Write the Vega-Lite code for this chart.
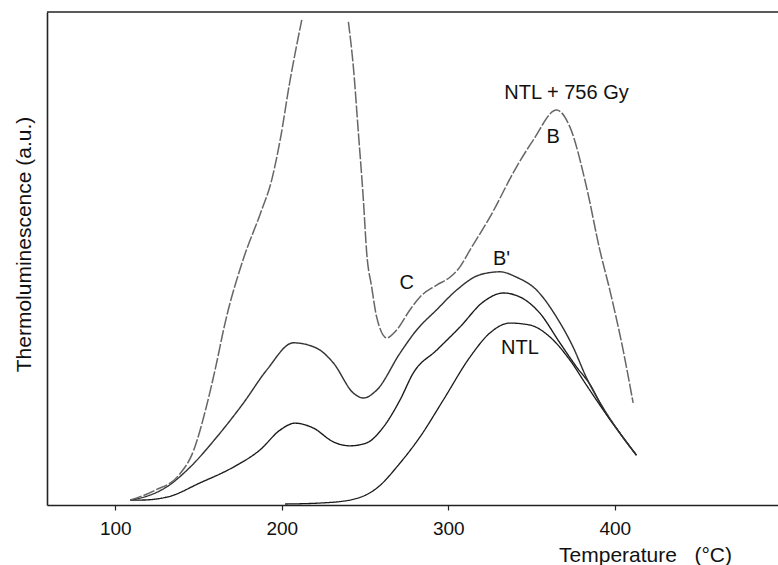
{
  "$schema": "https://vega.github.io/schema/vega-lite/v6.json",
  "width": 731,
  "height": 493,
  "autosize": {"type": "none"},
  "padding": {"left": 47, "top": 12, "right": 0, "bottom": 60},
  "background": "white",
  "config": {
    "view": {"stroke": null},
    "font": "Liberation Sans",
    "axis": {"grid": false}
  },
  "datasets": {
    "curves": [
      {"series": "NTL", "seg": "a", "T": 202, "v": 0.2},
      {"series": "NTL", "seg": "a", "T": 223, "v": 0.4},
      {"series": "NTL", "seg": "a", "T": 241, "v": 1.0},
      {"series": "NTL", "seg": "a", "T": 257, "v": 3.4},
      {"series": "NTL", "seg": "a", "T": 271, "v": 8.5},
      {"series": "NTL", "seg": "a", "T": 283, "v": 13.8},
      {"series": "NTL", "seg": "a", "T": 297, "v": 21.3},
      {"series": "NTL", "seg": "a", "T": 313, "v": 30.0},
      {"series": "NTL", "seg": "a", "T": 325, "v": 34.9},
      {"series": "NTL", "seg": "a", "T": 337, "v": 36.9},
      {"series": "NTL", "seg": "a", "T": 349, "v": 36.5},
      {"series": "NTL", "seg": "a", "T": 361, "v": 34.1},
      {"series": "NTL", "seg": "a", "T": 373, "v": 29.4},
      {"series": "NTL", "seg": "a", "T": 383, "v": 24.3},
      {"series": "NTL", "seg": "a", "T": 393, "v": 19.3},
      {"series": "NTL", "seg": "a", "T": 403, "v": 14.6},
      {"series": "NTL", "seg": "a", "T": 413, "v": 10.1},

      {"series": "S2", "seg": "a", "T": 109, "v": 1.0},
      {"series": "S2", "seg": "a", "T": 115, "v": 1.0},
      {"series": "S2", "seg": "a", "T": 131, "v": 1.6},
      {"series": "S2", "seg": "a", "T": 151, "v": 4.5},
      {"series": "S2", "seg": "a", "T": 171, "v": 7.7},
      {"series": "S2", "seg": "a", "T": 187, "v": 11.2},
      {"series": "S2", "seg": "a", "T": 199, "v": 15.2},
      {"series": "S2", "seg": "a", "T": 208, "v": 16.6},
      {"series": "S2", "seg": "a", "T": 219, "v": 15.6},
      {"series": "S2", "seg": "a", "T": 231, "v": 12.8},
      {"series": "S2", "seg": "a", "T": 241, "v": 12.0},
      {"series": "S2", "seg": "a", "T": 251, "v": 12.6},
      {"series": "S2", "seg": "a", "T": 261, "v": 15.8},
      {"series": "S2", "seg": "a", "T": 271, "v": 21.3},
      {"series": "S2", "seg": "a", "T": 279, "v": 26.8},
      {"series": "S2", "seg": "a", "T": 293, "v": 31.4},
      {"series": "S2", "seg": "a", "T": 307, "v": 36.1},
      {"series": "S2", "seg": "a", "T": 321, "v": 41.2},
      {"series": "S2", "seg": "a", "T": 333, "v": 43.0},
      {"series": "S2", "seg": "a", "T": 343, "v": 42.2},
      {"series": "S2", "seg": "a", "T": 355, "v": 38.9},
      {"series": "S2", "seg": "a", "T": 367, "v": 32.9},
      {"series": "S2", "seg": "a", "T": 377, "v": 28.0},
      {"series": "S2", "seg": "a", "T": 385, "v": 24.5},
      {"series": "S2", "seg": "a", "T": 393, "v": 19.5},
      {"series": "S2", "seg": "a", "T": 403, "v": 14.6},
      {"series": "S2", "seg": "a", "T": 413, "v": 10.1},

      {"series": "S3", "seg": "a", "T": 109, "v": 1.0},
      {"series": "S3", "seg": "a", "T": 115, "v": 1.4},
      {"series": "S3", "seg": "a", "T": 131, "v": 3.7},
      {"series": "S3", "seg": "a", "T": 145, "v": 7.7},
      {"series": "S3", "seg": "a", "T": 161, "v": 13.8},
      {"series": "S3", "seg": "a", "T": 177, "v": 20.7},
      {"series": "S3", "seg": "a", "T": 191, "v": 27.4},
      {"series": "S3", "seg": "a", "T": 207, "v": 32.9},
      {"series": "S3", "seg": "a", "T": 221, "v": 31.8},
      {"series": "S3", "seg": "a", "T": 231, "v": 28.8},
      {"series": "S3", "seg": "a", "T": 243, "v": 22.7},
      {"series": "S3", "seg": "a", "T": 249, "v": 21.7},
      {"series": "S3", "seg": "a", "T": 257, "v": 23.3},
      {"series": "S3", "seg": "a", "T": 271, "v": 30.8},
      {"series": "S3", "seg": "a", "T": 281, "v": 35.5},
      {"series": "S3", "seg": "a", "T": 293, "v": 39.6},
      {"series": "S3", "seg": "a", "T": 305, "v": 43.6},
      {"series": "S3", "seg": "a", "T": 319, "v": 46.7},
      {"series": "S3", "seg": "a", "T": 331, "v": 47.3},
      {"series": "S3", "seg": "a", "T": 341, "v": 46.2},
      {"series": "S3", "seg": "a", "T": 353, "v": 43.6},
      {"series": "S3", "seg": "a", "T": 365, "v": 38.1},
      {"series": "S3", "seg": "a", "T": 375, "v": 32.0},
      {"series": "S3", "seg": "a", "T": 383, "v": 25.8},
      {"series": "S3", "seg": "a", "T": 393, "v": 19.7},
      {"series": "S3", "seg": "a", "T": 403, "v": 14.6},
      {"series": "S3", "seg": "a", "T": 413, "v": 10.1},

      {"series": "NTL + 756 Gy", "seg": "a", "T": 109, "v": 1.0},
      {"series": "NTL + 756 Gy", "seg": "a", "T": 124, "v": 3.0},
      {"series": "NTL + 756 Gy", "seg": "a", "T": 138, "v": 6.0},
      {"series": "NTL + 756 Gy", "seg": "a", "T": 147, "v": 11.0},
      {"series": "NTL + 756 Gy", "seg": "a", "T": 154, "v": 19.0},
      {"series": "NTL + 756 Gy", "seg": "a", "T": 160, "v": 27.5},
      {"series": "NTL + 756 Gy", "seg": "a", "T": 166, "v": 37.0},
      {"series": "NTL + 756 Gy", "seg": "a", "T": 177, "v": 50.0},
      {"series": "NTL + 756 Gy", "seg": "a", "T": 187, "v": 59.0},
      {"series": "NTL + 756 Gy", "seg": "a", "T": 194, "v": 66.0},
      {"series": "NTL + 756 Gy", "seg": "a", "T": 199, "v": 74.0},
      {"series": "NTL + 756 Gy", "seg": "a", "T": 205, "v": 86.2},
      {"series": "NTL + 756 Gy", "seg": "a", "T": 212, "v": 98.4},

      {"series": "NTL + 756 Gy", "seg": "b", "T": 240, "v": 98.0},
      {"series": "NTL + 756 Gy", "seg": "b", "T": 243, "v": 88.8},
      {"series": "NTL + 756 Gy", "seg": "b", "T": 246, "v": 75.5},
      {"series": "NTL + 756 Gy", "seg": "b", "T": 249, "v": 61.9},
      {"series": "NTL + 756 Gy", "seg": "b", "T": 251, "v": 51.1},
      {"series": "NTL + 756 Gy", "seg": "b", "T": 254, "v": 44.2},
      {"series": "NTL + 756 Gy", "seg": "b", "T": 257, "v": 38.1},
      {"series": "NTL + 756 Gy", "seg": "b", "T": 263, "v": 33.9},
      {"series": "NTL + 756 Gy", "seg": "b", "T": 269, "v": 35.5},
      {"series": "NTL + 756 Gy", "seg": "b", "T": 277, "v": 39.6},
      {"series": "NTL + 756 Gy", "seg": "b", "T": 283, "v": 42.2},
      {"series": "NTL + 756 Gy", "seg": "b", "T": 293, "v": 44.6},
      {"series": "NTL + 756 Gy", "seg": "b", "T": 301, "v": 46.2},
      {"series": "NTL + 756 Gy", "seg": "b", "T": 307, "v": 48.3},
      {"series": "NTL + 756 Gy", "seg": "b", "T": 313, "v": 51.7},
      {"series": "NTL + 756 Gy", "seg": "b", "T": 325, "v": 58.4},
      {"series": "NTL + 756 Gy", "seg": "b", "T": 341, "v": 68.6},
      {"series": "NTL + 756 Gy", "seg": "b", "T": 351, "v": 74.0},
      {"series": "NTL + 756 Gy", "seg": "b", "T": 365, "v": 80.1},
      {"series": "NTL + 756 Gy", "seg": "b", "T": 373, "v": 76.7},
      {"series": "NTL + 756 Gy", "seg": "b", "T": 383, "v": 64.5},
      {"series": "NTL + 756 Gy", "seg": "b", "T": 391, "v": 51.7},
      {"series": "NTL + 756 Gy", "seg": "b", "T": 397, "v": 43.6},
      {"series": "NTL + 756 Gy", "seg": "b", "T": 405, "v": 31.4},
      {"series": "NTL + 756 Gy", "seg": "b", "T": 411, "v": 20.7}
    ],
    "labels": [
      {"text": "NTL + 756 Gy", "T": 371, "v": 83.6},
      {"text": "B", "T": 363, "v": 74.6},
      {"text": "B'", "T": 332, "v": 49.9},
      {"text": "C", "T": 275, "v": 45.0},
      {"text": "NTL", "T": 343, "v": 31.8}
    ],
    "frame": [{"top": 100}]
  },
  "layer": [
    {
      "data": {"name": "frame"},
      "mark": {"type": "rule", "color": "#222", "strokeWidth": 1.6},
      "encoding": {
        "y": {"field": "top", "type": "quantitative", "scale": {"domain": [0, 100], "nice": false, "zero": false}}
      }
    },
    {
      "data": {"name": "curves"},
      "mark": {"type": "line", "interpolate": "monotone", "clip": true},
      "encoding": {
        "x": {
          "field": "T", "type": "quantitative",
          "scale": {"domain": [59, 498], "nice": false, "zero": false},
          "axis": {
            "values": [100, 200, 300, 400],
            "format": "d",
            "domainColor": "#222", "domainWidth": 1.6,
            "tickColor": "#222", "tickSize": 5, "tickWidth": 1.2,
            "labelFont": "Liberation Sans", "labelFontSize": 19, "labelColor": "#111",
            "labelPadding": 9,
            "title": "Temperature\u00a0\u00a0\u00a0(°C)",
            "titleFont": "Liberation Sans", "titleFontSize": 21, "titleFontWeight": "normal", "titleColor": "#111",
            "titleX": 598, "titleY": 50, "titleAlign": "center", "titleBaseline": "middle", "titleAnchor": null
          }
        },
        "y": {
          "field": "v", "type": "quantitative",
          "scale": {"domain": [0, 100], "nice": false, "zero": false},
          "axis": {
            "ticks": false, "labels": false,
            "domainColor": "#222", "domainWidth": 1.6,
            "title": "Thermoluminescence (a.u.)",
            "titleFont": "Liberation Sans", "titleFontSize": 21, "titleFontWeight": "normal", "titleColor": "#111",
            "titleX": -23, "titleY": 232, "titleAngle": -90, "titleAlign": "center", "titleBaseline": "middle"
          }
        },
        "detail": {"field": "seg"},
        "color": {
          "field": "series", "type": "nominal", "legend": null,
          "scale": {"domain": ["NTL", "S2", "S3", "NTL + 756 Gy"], "range": ["#1a1a1a", "#1a1a1a", "#333333", "#666666"]}
        },
        "strokeDash": {
          "field": "series", "type": "nominal", "legend": null,
          "scale": {"domain": ["NTL", "S2", "S3", "NTL + 756 Gy"], "range": [[1, 0], [1, 0], [1, 0], [12, 2]]}
        },
        "strokeWidth": {
          "field": "series", "type": "nominal", "legend": null,
          "scale": {"domain": ["NTL", "S2", "S3", "NTL + 756 Gy"], "range": [1.3, 1.5, 1.2, 1.0]}
        }
      }
    },
    {
      "data": {"name": "labels"},
      "mark": {"type": "text", "font": "Liberation Sans", "fontSize": 20, "color": "#111", "align": "center", "baseline": "middle"},
      "encoding": {
        "x": {"field": "T", "type": "quantitative"},
        "y": {"field": "v", "type": "quantitative"},
        "text": {"field": "text"}
      }
    }
  ]
}
